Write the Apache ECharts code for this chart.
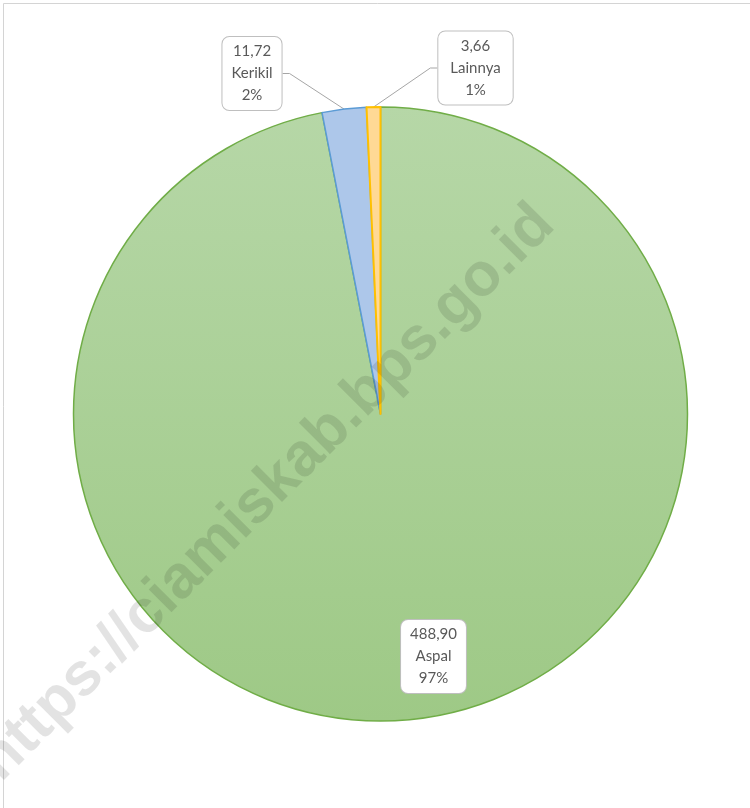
<!DOCTYPE html>
<html>
<head>
<meta charset="utf-8">
<style>
html,body{margin:0;padding:0;background:#fff;}
#chart{width:750px;height:808px;}
</style>
<script src="https://cdn.jsdelivr.net/npm/echarts@6/dist/echarts.min.js"></script>
</head>
<body>
<div id="chart"></div>
<script>
const categories = ['Aspal', 'Kerikil', 'Lainnya'];
const values = [488.90, 11.72, 3.66];
const percentLabels = ['97%', '2%', '1%'];
const valueLabels = ['488,90', '11,72', '3,66'];
const watermarkText = 'https://ciamiskab.bps.go.id';

const chart = echarts.init(document.getElementById('chart'), null, {renderer: 'canvas'});

const fills = [
  new echarts.graphic.LinearGradient(0, 0, 0, 1, [
    {offset: 0, color: '#b6d7a7'},
    {offset: 1, color: '#9ec986'}
  ]),
  '#adc7ea',
  '#ffd995'
];
const borders = ['#70ad47', '#5b9bd5', '#ffc000'];
const labelPos = [[433.5, 656.5], [252, 73.5], [475.5, 68]];
const labelPad = [[4, 9, 3, 9], [4, 9, 3, 9], [4, 12, 3, 12]];

const data = categories.map((c, i) => ({
  name: c,
  value: values[i],
  itemStyle: {color: fills[i], borderColor: borders[i], borderWidth: i === 2 ? 2 : 1.5},
  labelLine: {show: i !== 0},
  label: {formatter: valueLabels[i] + '\n' + c + '\n' + percentLabels[i], padding: labelPad[i]}
}));

chart.setOption({
  animation: false,
  backgroundColor: '#ffffff',
  graphic: [
    {
      type: 'rect', z: 0, silent: true,
      shape: {x: 3.5, y: 3.5, width: 800, height: 900},
      style: {fill: 'none', stroke: '#d4d4d4', lineWidth: 1}
    },
    {
      type: 'text', z: 100, silent: true,
      x: 267, y: 493,
      rotation: 45 * Math.PI / 180,
      style: {
        text: watermarkText,
        fill: 'rgba(0,0,0,0.11)',
        font: 'bold 61px "Liberation Sans", Arial, sans-serif',
        align: 'center',
        verticalAlign: 'middle'
      }
    }
  ],
  series: [{
    type: 'pie',
    center: [380.5, 414],
    radius: [0, 307],
    startAngle: 90,
    clockwise: true,
    data: data,
    label: {
      show: true,
      position: 'outside',
      color: '#595959',
      fontFamily: 'Lato, "Noto Sans", sans-serif',
      fontSize: 15,
      lineHeight: 22,
      align: 'center',
      backgroundColor: '#ffffff',
      borderColor: '#bfbfbf',
      borderWidth: 1,
      borderRadius: 7
    },
    labelLine: {
      show: true,
      length: 10,
      length2: 7,
      lineStyle: {color: '#a6a6a6', width: 1}
    },
    labelLayout: function (params) {
      const p = labelPos[params.dataIndex];
      return {x: p[0], y: p[1], align: 'center', verticalAlign: 'middle'};
    },
    emphasis: {disabled: true}
  }]
});
</script>
</body>
</html>
